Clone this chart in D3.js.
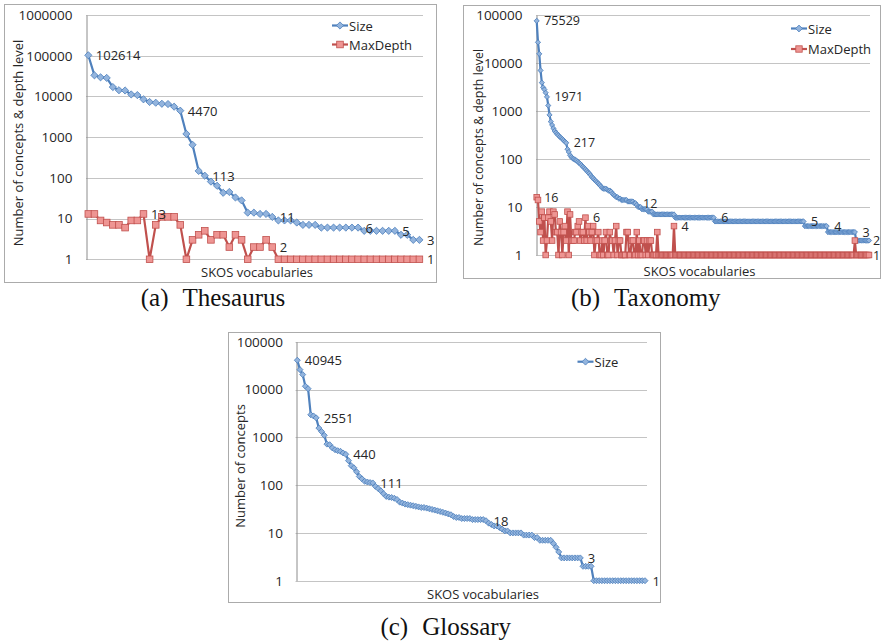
<!DOCTYPE html>
<html>
<head>
<meta charset="utf-8">
<script src="https://cdn.jsdelivr.net/npm/d3@7"></script>
<style>
  html, body { margin: 0; padding: 0; background: #fff; }
  svg { display: block; }
</style>
</head>
<body>
<script>
// ---- Data -------------------------------------------------------------
// (a) Thesaurus: concept counts and maximum depth per vocabulary
const thesSize = [
  102614, 33000, 29500, 28500, 17000, 14200, 14000, 11200, 10800, 8500,
  7300, 7000, 6600, 6500, 5600, 4470, 1200, 650, 148, 113,
  81, 64, 43, 45, 33, 28, 14, 14, 13, 13,
  11, 9, 9, 9, 8, 7, 7, 7, 6, 6,
  6, 6, 6, 6, 6, 5, 5, 5, 5, 5,
  5, 4, 4, 3, 3
];
const thesDepth = [
  13, 13, 9, 8, 7, 7, 6, 9, 9, 13,
  1, 7, 11, 11, 11, 7, 1, 3, 4, 5,
  3, 4, 4, 2, 4, 3, 1, 2, 2, 3,
  2, 1, 1, 1, 1, 1, 1, 1, 1, 1,
  1, 1, 1, 1, 1, 1, 1, 1, 1, 1,
  1, 1, 1, 1, 1
];
const thesSizeLabelIdx = [0, 15, 19, 30, 44, 50, 54];
const thesDepthLabelIdx = [9, 30, 54];

// (b) Taxonomy
const taxSize = [
  75529, 27000, 15500, 7000, 3900, 3100, 2800, 2400, 1971, 1300,
  830, 600, 510, 435, 385, 355, 330, 310, 290, 275,
  260, 245, 230, 217, 160, 140, 120, 110, 103, 100,
  96, 93, 88, 83, 79, 74, 69, 65, 61, 57,
  53, 50, 46, 42, 40, 37, 35, 33, 31, 29,
  27, 25, 24, 24, 24, 23, 22, 22, 21, 19,
  18, 17, 16, 16, 15, 15, 14, 14, 14, 14,
  14, 13, 13, 13, 13, 13, 12, 12, 11, 10,
  10, 10, 9, 9, 9, 9, 9, 8, 8, 8,
  8, 7, 7, 7, 7, 7, 7, 7, 7, 7,
  7, 7, 7, 7, 7, 7, 7, 7, 6, 6,
  6, 6, 6, 6, 6, 6, 6, 6, 6, 6,
  6, 6, 6, 6, 6, 6, 6, 6, 6, 6,
  6, 6, 6, 6, 6, 6, 6, 6, 6, 5,
  5, 5, 5, 5, 5, 5, 5, 5, 5, 5,
  5, 5, 5, 5, 5, 5, 5, 5, 5, 5,
  5, 5, 5, 5, 5, 5, 5, 5, 5, 5,
  5, 5, 5, 5, 5, 5, 5, 5, 5, 5,
  5, 5, 5, 5, 5, 5, 5, 5, 5, 5,
  5, 5, 5, 5, 5, 5, 5, 5, 5, 5,
  5, 5, 5, 5, 5, 5, 5, 5, 5, 4,
  4, 4, 4, 4, 4, 4, 4, 4, 4, 4,
  4, 4, 4, 4, 4, 4, 4, 3, 3, 3,
  3, 3, 3, 3, 3, 3, 3, 3, 3, 3,
  3, 3, 3, 3, 3, 3, 3, 3, 3, 2,
  2, 2, 2, 2, 2, 2, 2, 2, 2, 2
];
const taxDepth = [
  16, 14, 5, 3, 8, 2, 6, 1, 2, 6,
  8, 5, 2, 8, 7, 3, 3, 1, 5, 3,
  1, 3, 4, 2, 8, 1, 7, 2, 2, 2,
  3, 3, 4, 5, 2, 3, 3, 2, 6, 2,
  4, 3, 2, 3, 4, 1, 2, 2, 3, 1,
  1, 2, 1, 2, 3, 1, 1, 3, 2, 2,
  1, 2, 4, 1, 2, 2, 1, 1, 1, 1,
  3, 3, 1, 1, 2, 2, 1, 1, 3, 1,
  2, 1, 1, 2, 2, 1, 2, 1, 2, 2,
  1, 1, 1, 1, 3, 1, 1, 1, 1, 1,
  1, 1, 1, 1, 1, 1, 1, 4, 1, 1,
  1, 1, 1, 1, 1, 1, 1, 1, 1, 1,
  1, 1, 1, 1, 1, 1, 1, 1, 1, 1,
  1, 1, 1, 1, 1, 1, 1, 1, 1, 1,
  1, 1, 1, 1, 1, 1, 1, 1, 1, 1,
  1, 1, 1, 1, 1, 1, 1, 1, 1, 1,
  1, 1, 1, 1, 1, 1, 1, 1, 1, 1,
  1, 1, 1, 1, 1, 1, 1, 1, 1, 1,
  1, 1, 1, 1, 1, 1, 1, 1, 1, 1,
  1, 1, 1, 1, 1, 1, 1, 1, 1, 1,
  1, 1, 1, 1, 1, 1, 1, 1, 1, 1,
  1, 1, 1, 1, 1, 1, 1, 1, 1, 1,
  1, 1, 1, 1, 1, 1, 1, 1, 1, 1,
  1, 1, 1, 1, 1, 1, 1, 1, 1, 1,
  1, 1, 1, 1, 1, 1, 1, 1, 2, 1,
  1, 1, 1, 1, 1, 1, 1, 1, 1, 1
];
const taxSizeLabelIdx = [0, 8, 23, 77, 138, 208, 226, 248, 259];
const taxDepthLabelIdx = [0, 38, 107, 259];

// (c) Glossary
const glosSize = [
  40945, 26000, 20500, 11700, 10400, 2960, 2800, 2551, 1560, 1320,
  1100, 720, 700, 600, 550, 525, 510, 470, 440, 325,
  255, 230, 190, 152, 135, 120, 116, 113, 111, 94,
  85, 76, 66, 58, 56, 55, 53, 50, 44, 42,
  40, 39, 38, 37, 36, 35, 34, 34, 33, 32,
  31, 30, 29, 28, 27, 26, 25, 24, 22, 21,
  21, 20, 20, 20, 20, 19, 19, 19, 19, 19,
  18, 16, 15, 14, 14, 13, 12, 11, 11, 10,
  10, 10, 10, 10, 9, 9, 9, 9, 8, 8,
  7, 7, 7, 7, 7, 6, 5, 4, 3, 3,
  3, 3, 3, 3, 3, 3, 2, 2, 2, 2,
  1, 1, 1, 1, 1, 1, 1, 1, 1, 1,
  1, 1, 1, 1, 1, 1, 1, 1, 1, 1
];
const glosSizeLabelIdx = [0, 7, 18, 28, 70, 105, 129];

// Axis ticks
const ticksSixDecades = [1, 10, 100, 1000, 10000, 100000, 1000000];
const ticksFiveDecades = [1, 10, 100, 1000, 10000, 100000];

const seriesNames = ["Size", "MaxDepth"];
const xAxisTitle = "SKOS vocabularies";
const captions = [["(a)", "Thesaurus"], ["(b)", "Taxonomy"], ["(c)", "Glossary"]];

// ---- Styles -------------------------------------------------------------
const FONT = "'Open Sans', 'DejaVu Sans', sans-serif";
const SERIF = "'Liberation Serif', 'DejaVu Serif', serif";
const BLUE = { line: "#4F81BD", fill: "#93B4DD", stroke: "#4A7EBB" };
const RED  = { line: "#C0504D", fill: "#EE9593", stroke: "#C0504D" };
const TEXT = "#262626";

const svg = d3.select("body").append("svg")
  .attr("width", 881).attr("height", 642)
  .attr("viewBox", "0 0 881 642");

function diamondPath(r) {
  return `M0,${-r}L${r},0L0,${r}L${-r},0Z`;
}

function drawMarker(sel, shape, size, style) {
  if (shape === "diamond") {
    sel.append("path").attr("d", diamondPath(size))
      .attr("fill", style.fill).attr("stroke", style.stroke).attr("stroke-width", 0.8);
  } else {
    sel.append("rect").attr("x", -size).attr("y", -size)
      .attr("width", 2 * size).attr("height", 2 * size)
      .attr("fill", style.fill).attr("stroke", style.stroke).attr("stroke-width", 0.8);
  }
}

function drawPanel(cfg) {
  const g = svg.append("g");
  const [fx0, fy0, fx1, fy1] = cfg.frame;
  g.append("rect")
    .attr("x", fx0).attr("y", fy0)
    .attr("width", fx1 - fx0).attr("height", fy1 - fy0)
    .attr("fill", "#fff").attr("stroke", "#ababab").attr("stroke-width", 1);

  const n = cfg.series[0].values.length;
  const x = d3.scaleLinear().domain([0, n - 1]).range([cfg.x0, cfg.x1]);
  const y = d3.scaleLog().domain([1, cfg.ticks[cfg.ticks.length - 1]]).range([cfg.yBot, cfg.yTop]);

  // horizontal gridlines
  g.append("g").selectAll("line").data(cfg.ticks).join("line")
    .attr("x1", cfg.axisX).attr("x2", cfg.gridEnd)
    .attr("y1", d => Math.round(y(d)) + 0.5).attr("y2", d => Math.round(y(d)) + 0.5)
    .attr("stroke", "#c4c4c4").attr("stroke-width", 1);

  // value axis
  const axis = d3.axisLeft(y)
    .tickValues(cfg.ticks)
    .tickFormat(d3.format("d"))
    .tickSize(0).tickSizeOuter(0)
    .tickPadding(cfg.axisX - cfg.tickRight);
  const ag = g.append("g").attr("transform", `translate(${Math.round(cfg.axisX) + 0.5},0)`).call(axis);
  ag.select(".domain").attr("stroke", "#8c8c8c");
  ag.selectAll("text").attr("fill", TEXT).style("font-family", FONT).style("font-size", cfg.tickFont + "px");

  // axis titles
  g.append("text")
    .attr("transform", `translate(${cfg.yTitle[0]},${cfg.yTitle[1]}) rotate(-90)`)
    .attr("text-anchor", "middle").attr("dominant-baseline", "central")
    .attr("fill", TEXT).style("font-family", FONT).style("font-size", cfg.yTitleFont + "px")
    .text(cfg.yTitleText);
  g.append("text")
    .attr("x", cfg.xTitle[0]).attr("y", cfg.xTitle[1])
    .attr("text-anchor", "middle").attr("dominant-baseline", "central")
    .attr("fill", TEXT).style("font-family", FONT).style("font-size", cfg.titleFont + "px")
    .text(xAxisTitle);

  const line = d3.line().x((d, i) => x(i)).y(d => y(d));

  // series
  cfg.series.forEach(s => {
    g.append("path").datum(s.values)
      .attr("d", line).attr("fill", "none")
      .attr("stroke", s.style.line).attr("stroke-width", cfg.lineWidth)
      .attr("stroke-linejoin", "round");
    const mg = g.append("g");
    s.values.forEach((v, i) => {
      const m = mg.append("g").attr("transform", `translate(${x(i)},${y(v)})`);
      drawMarker(m, s.shape, s.size, s.style);
    });
  });

  // data labels
  cfg.series.forEach(s => {
    g.append("g").selectAll("text").data(s.labels).join("text")
      .attr("x", i => x(i) + (i === n - 1 ? cfg.lastLabelDx : cfg.labelDx))
      .attr("y", i => y(s.values[i]))
      .attr("dominant-baseline", "central")
      .attr("fill", TEXT).style("font-family", FONT).style("font-size", cfg.labelFont + "px")
      .text(i => d3.format("d")(s.values[i]));
  });

  // legend
  cfg.series.forEach((s, k) => {
    const [lx, ly] = cfg.legend[k];
    const lg = g.append("g");
    lg.append("line").attr("x1", lx - 16).attr("x2", lx).attr("y1", ly).attr("y2", ly)
      .attr("stroke", s.style.line).attr("stroke-width", cfg.lineWidth);
    const m = lg.append("g").attr("transform", `translate(${lx - 8},${ly})`);
    drawMarker(m, s.shape, s.legendSize, s.style);
    lg.append("text").attr("x", lx + 1).attr("y", ly)
      .attr("dominant-baseline", "central")
      .attr("fill", TEXT).style("font-family", FONT).style("font-size", cfg.titleFont + "px")
      .text(seriesNames[k]);
  });

  // caption, centred below the panel
  const cap = captions[cfg.captionIdx];
  const ct = svg.append("text").attr("x", 0).attr("y", cfg.caption[1])
    .attr("fill", "#111").style("font-family", SERIF).style("font-size", "25px");
  ct.append("tspan").text(cap[0]);
  ct.append("tspan").attr("dx", 14).text(cap[1]);
  const w = ct.node().getBBox().width;
  ct.attr("x", cfg.caption[0] - w / 2);
}

drawPanel({
  frame: [4.5, 4.5, 436.5, 282.5],
  x0: 88.3, x1: 419.4, yTop: 15, yBot: 259.3,
  axisX: 86, gridEnd: 423, tickRight: 72,
  ticks: ticksSixDecades,
  tickFont: 13.5, titleFont: 13, yTitleFont: 13, labelFont: 13, labelDx: 7.5, lastLabelDx: 7.5, lineWidth: 2.2,
  yTitle: [17.5, 143], yTitleText: "Number of concepts & depth level",
  xTitle: [257, 271.5],
  legend: [[348, 25.5], [348, 44.5]],
  series: [
    { values: thesSize, labels: thesSizeLabelIdx, shape: "diamond", size: 3.6, legendSize: 3.6, style: BLUE },
    { values: thesDepth, labels: thesDepthLabelIdx, shape: "square", size: 3.3, legendSize: 3.3, style: RED }
  ],
  captionIdx: 0, caption: [213, 306]
});

drawPanel({
  frame: [463.5, 5.5, 880.5, 278.5],
  x0: 536.7, x1: 869, yTop: 15, yBot: 255,
  axisX: 536, gridEnd: 870, tickRight: 522,
  ticks: ticksFiveDecades,
  tickFont: 13.5, titleFont: 13, yTitleFont: 12.4, labelFont: 12.5, labelDx: 7.5, lastLabelDx: 4, lineWidth: 2.2,
  yTitle: [478, 147.5], yTitleText: "Number of concepts & depth level",
  xTitle: [699.5, 271],
  legend: [[807, 28.5], [807, 49]],
  series: [
    { values: taxSize, labels: taxSizeLabelIdx, shape: "diamond", size: 2.6, legendSize: 3.4, style: BLUE },
    { values: taxDepth, labels: taxDepthLabelIdx, shape: "square", size: 2.8, legendSize: 3.2, style: RED }
  ],
  captionIdx: 1, caption: [646, 306]
});

drawPanel({
  frame: [228.5, 332.5, 660.5, 602.5],
  x0: 297.3, x1: 645, yTop: 341.7, yBot: 580.7,
  axisX: 295.5, gridEnd: 647, tickRight: 282,
  ticks: ticksFiveDecades,
  tickFont: 13.5, titleFont: 13, yTitleFont: 13, labelFont: 13, labelDx: 7.5, lastLabelDx: 7.5, lineWidth: 2.2,
  yTitle: [240, 466], yTitleText: "Number of concepts",
  xTitle: [483, 594],
  legend: [[593.5, 361.7]],
  series: [
    { values: glosSize, labels: glosSizeLabelIdx, shape: "diamond", size: 3.0, legendSize: 3.4, style: BLUE }
  ],
  captionIdx: 2, caption: [446, 635]
});
</script>
</body>
</html>
